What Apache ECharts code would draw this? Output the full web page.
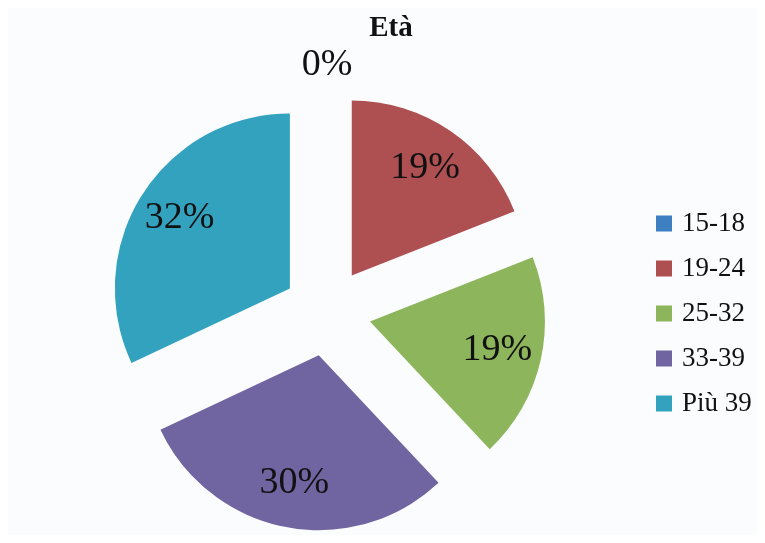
<!DOCTYPE html>
<html>
<head>
<meta charset="utf-8">
<script src="https://cdn.jsdelivr.net/npm/echarts@6/dist/echarts.min.js"></script>
<style>
  html, body { margin: 0; padding: 0; background: #ffffff; }
  #chart { width: 765px; height: 543px; }
</style>
</head>
<body>
<div id="chart"></div>
<script>
// Age groups and their share of respondents (%)
const categories = ['15-18', '19-24', '25-32', '33-39', 'Più 39'];
const shares = [0, 19, 19, 30, 32];
const sliceColors = ['#3d7fc0', '#ae4f52', '#8db55b', '#7165a1', '#33a2bf'];
const chartTitle = 'Età';

const center = [327, 312];
const radius = 175;
const explode = 44;
const serif = '"Liberation Serif", "Times New Roman", serif';

const pieData = categories.map((name, i) => ({
  name,
  value: shares[i],
  selected: true,
  itemStyle: { color: sliceColors[i] }
}));

// Transparent ring carrying the percentage labels a bit further out than the
// default 'inside' spot; the empty slice's label is lifted above the pie
// with trailing blank lines.
const labelData = categories.map((name, i) => {
  const item = { name, value: shares[i], selected: true };
  if (shares[i] === 0) {
    item.label = {
      lineHeight: 36,
      formatter: p => p.value + '%\n\n\n\n'
    };
  }
  return item;
});

const chart = echarts.init(document.getElementById('chart'), null, { renderer: 'canvas' });

chart.setOption({
  animation: false,
  backgroundColor: '#ffffff',
  graphic: [{
    type: 'rect',
    left: 8, top: 8,
    shape: { width: 749, height: 527 },
    style: { fill: '#fbfcfe' },
    z: -10
  }],
  title: {
    text: chartTitle,
    left: 386,
    top: 9,
    textAlign: 'center',
    textStyle: { fontFamily: serif, fontWeight: 'bold', fontSize: 29, color: '#111' }
  },
  legend: {
    orient: 'vertical',
    left: 656,
    top: 210,
    padding: 0,
    itemWidth: 16,
    itemHeight: 16,
    itemGap: 18,
    icon: 'rect',
    selectedMode: false,
    data: categories.map((name, i) => ({ name, itemStyle: { color: sliceColors[i] } })),
    textStyle: { fontFamily: serif, fontSize: 27, color: '#111', lineHeight: 26, padding: [0, 0, 0, 5] }
  },
  series: [
    {
      type: 'pie',
      center,
      radius: [0, radius],
      startAngle: 90,
      clockwise: true,
      selectedMode: 'multiple',
      selectedOffset: explode,
      avoidLabelOverlap: false,
      silent: true,
      label: { show: false },
      labelLine: { show: false },
      itemStyle: { borderWidth: 0 },
      emphasis: { disabled: true },
      data: pieData
    },
    {
      type: 'pie',
      center,
      radius: [80, radius],
      startAngle: 90,
      clockwise: true,
      selectedMode: 'multiple',
      selectedOffset: explode,
      avoidLabelOverlap: false,
      silent: true,
      itemStyle: { color: 'rgba(0,0,0,0)', borderWidth: 0 },
      label: {
        show: true,
        position: 'inside',
        formatter: p => p.value + '%',
        fontFamily: serif,
        fontSize: 38,
        color: '#111'
      },
      labelLine: { show: false },
      emphasis: { disabled: true },
      data: labelData
    }
  ]
});
</script>
</body>
</html>
